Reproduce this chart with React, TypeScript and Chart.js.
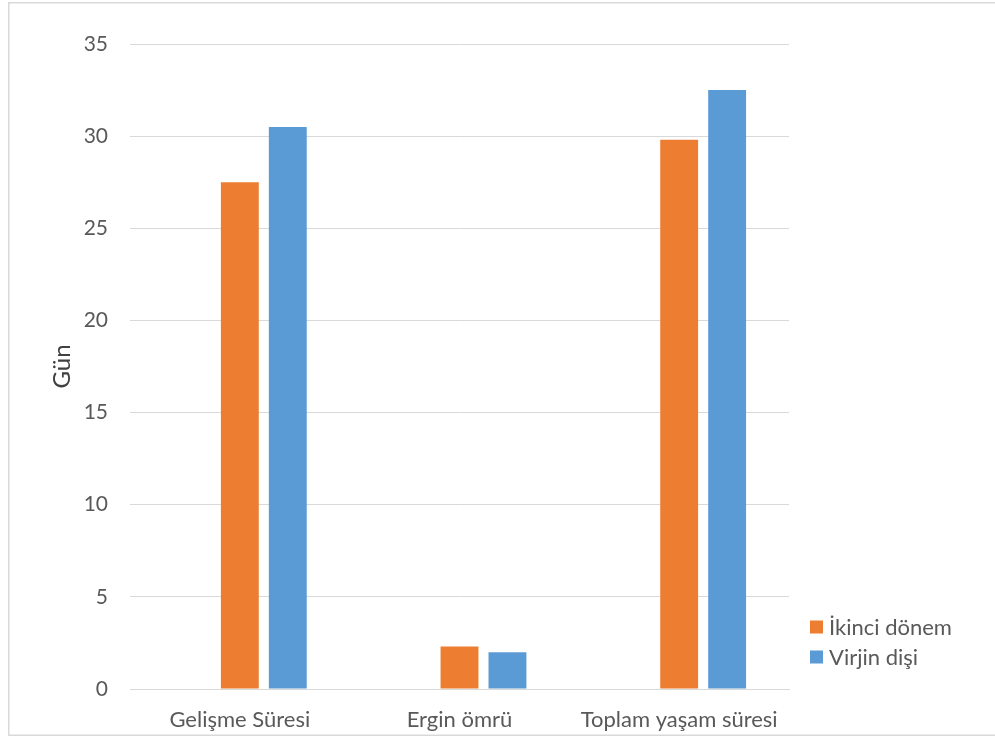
import React, { useEffect, useRef } from "react";
import { Chart, registerables } from "chart.js";

Chart.register(...registerables);

const categories = ["Gelişme Süresi", "Ergin ömrü", "Toplam yaşam süresi"];
const seriesNames = ["", "İkinci dönem", "Virjin dişi"];
const blankSeries = [null, null, null];
const ikinciDonem = [27.5, 2.3, 29.8];
const virjinDisi = [30.5, 2.0, 32.5];
const seriesColors = ["#A5A5A5", "#ED7D31", "#5B9BD5"];
const yTitle = "Gün";
const FONT = "Lato, 'Open Sans', sans-serif";

const framePlugin = {
  id: "frame",
  beforeDraw(chart: any) {
    const ctx = chart.ctx;
    ctx.save();
    ctx.fillStyle = "#ffffff";
    ctx.fillRect(0, 0, chart.width, chart.height);
    ctx.strokeStyle = "#d9d9d9";
    ctx.lineWidth = 1.5;
    ctx.strokeRect(8.75, 2.75, chart.width + 20, 732.5);
    ctx.restore();
  },
  afterDraw(chart: any) {
    const ctx = chart.ctx;
    ctx.save();
    ctx.font = `22px ${FONT}`;
    ctx.textBaseline = "middle";
    ctx.textAlign = "left";
    const ys = [627, 657];
    chart.data.datasets.slice(1).forEach((ds: any, i: number) => {
      ctx.fillStyle = ds.backgroundColor;
      ctx.fillRect(810, ys[i] - 6.5, 13, 13);
      ctx.fillStyle = "#595959";
      ctx.fillText(ds.label, 829, ys[i] + 1);
    });
    ctx.restore();
  },
};

export default function App() {
  const ref = useRef<HTMLCanvasElement>(null);
  useEffect(() => {
    const chart = new Chart(ref.current!, {
      type: "bar",
      data: {
        labels: categories,
        datasets: [
          { label: seriesNames[0], data: blankSeries, backgroundColor: seriesColors[0] },
          { label: seriesNames[1], data: ikinciDonem, backgroundColor: seriesColors[1] },
          { label: seriesNames[2], data: virjinDisi, backgroundColor: seriesColors[2] },
        ],
      },
      plugins: [framePlugin],
      options: {
        animation: false,
        responsive: false,
        events: [],
        datasets: { bar: { categoryPercentage: 0.655, barPercentage: 0.79 } },
        layout: { padding: { left: 40, right: 206, top: 44, bottom: 0 } },
        plugins: { legend: { display: false }, tooltip: { enabled: false } },
        scales: {
          x: {
            grid: { display: false, drawTicks: false },
            border: { display: true, color: "#d9d9d9", width: 1 },
            ticks: { font: { family: FONT, size: 22 }, color: "#595959", padding: 18 },
            afterFit: (s: any) => { s.height = 51; },
          },
          y: {
            min: 0,
            max: 35,
            ticks: { stepSize: 5, font: { family: FONT, size: 21 }, color: "#595959", padding: 22 },
            grid: { color: "#d9d9d9", lineWidth: 1, drawTicks: false },
            border: { display: false },
            title: { display: true, text: yTitle, font: { family: FONT, size: 24 }, color: "#404040", padding: { top: 8, bottom: 0 } },
            afterFit: (s: any) => { s.width = 90; },
          },
        },
      },
    });
    return () => chart.destroy();
  }, []);
  return (
    <div style={{ position: "absolute", left: 0, top: 0, width: 995, height: 740 }}>
      <canvas ref={ref} width={995} height={740} style={{ display: "block" }} />
    </div>
  );
}
